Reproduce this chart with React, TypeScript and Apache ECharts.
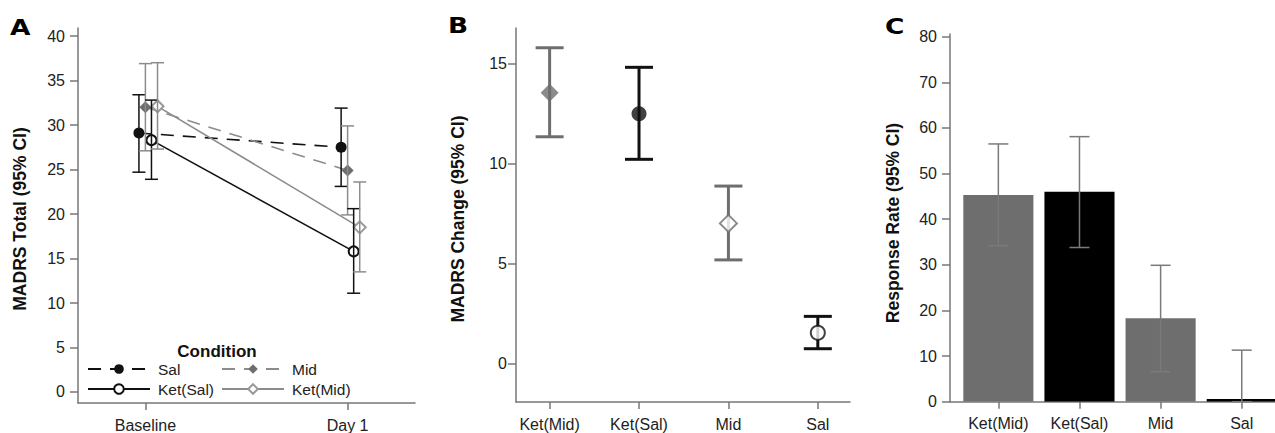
import React, { useEffect, useRef } from 'react';
import * as echarts from 'echarts';

// ---------- Data ----------
const timepoints = ['Baseline', 'Day 1'];
const conditions = ['Sal', 'Mid', 'Ket(Sal)', 'Ket(Mid)'];

const salMean = [29.1, 27.5];
const salLo = [24.7, 23.1];
const salHi = [33.4, 31.9];

const midMean = [32.0, 24.9];
const midLo = [27.1, 19.9];
const midHi = [36.9, 29.9];

const ketSalMean = [28.3, 15.8];
const ketSalLo = [23.9, 11.1];
const ketSalHi = [32.8, 20.6];

const ketMidMean = [32.1, 18.5];
const ketMidLo = [27.3, 13.5];
const ketMidHi = [37.0, 23.6];

const groups = ['Ket(Mid)', 'Ket(Sal)', 'Mid', 'Sal'];
const changeMean = [13.56, 12.5, 7.01, 1.53];
const changeLo = [11.35, 10.22, 5.18, 0.73];
const changeHi = [15.81, 14.83, 8.88, 2.35];

const responseRate = [45.3, 46.0, 18.3, 0.6];
const responseLo = [34.2, 33.8, 6.6, 0];
const responseHi = [56.5, 58.1, 29.9, 11.3];

const ticksA = [0, 5, 10, 15, 20, 25, 30, 35, 40];
const ticksB = [0, 5, 10, 15];
const ticksC = [0, 10, 20, 30, 40, 50, 60, 70, 80];

// ---------- Styles ----------
const FONT = '"Liberation Sans", Arial, sans-serif';
const BLACK = '#111111';
const GRAY = '#6e6e6e';
const LGRAY = '#8c8c8c';
const AXIS = '#777777';

const dodge: Record<string, number> = { Sal: -0.032, Mid: 0, 'Ket(Sal)': 0.03, 'Ket(Mid)': 0.06 };

const meanSets: Record<string, number[][]> = {
  Sal: [salMean, salLo, salHi],
  Mid: [midMean, midLo, midHi],
  'Ket(Sal)': [ketSalMean, ketSalLo, ketSalHi],
  'Ket(Mid)': [ketMidMean, ketMidLo, ketMidHi],
};

const lineLook: Record<string, any> = {
  Sal: { color: BLACK, line: BLACK, type: [13, 9], symbol: 'circle', size: 11, eb: BLACK },
  Mid: { color: GRAY, line: LGRAY, type: [13, 9], symbol: 'diamond', size: 12, eb: LGRAY },
  'Ket(Sal)': { color: BLACK, line: BLACK, type: 'solid', symbol: 'emptyCircle', size: 10, eb: BLACK },
  'Ket(Mid)': { color: '#999999', line: LGRAY, type: 'solid', symbol: 'emptyDiamond', size: 12, eb: LGRAY },
};

const changeColors = [GRAY, BLACK, GRAY, BLACK];
const changeSymbols = ['diamond', 'circle', 'emptyDiamond', 'emptyCircle'];
const changeSizes = [18, 15, 17, 14];
const barColors = [GRAY, '#000000', GRAY, '#000000'];

function errorBar(capW: number, width: number, colorFn: (i: number) => string) {
  return (params: any, api: any) => {
    const x = api.value(0);
    const lo = api.value(1);
    const hi = api.value(2);
    const top = api.coord([x, hi]);
    const bot = api.coord([x, lo]);
    const style = { stroke: colorFn(params.dataIndex), lineWidth: width, fill: null };
    return {
      type: 'group',
      children: [
        { type: 'line', shape: { x1: top[0], y1: top[1], x2: bot[0], y2: bot[1] }, style },
        { type: 'line', shape: { x1: top[0] - capW / 2, y1: top[1], x2: top[0] + capW / 2, y2: top[1] }, style },
        { type: 'line', shape: { x1: bot[0] - capW / 2, y1: bot[1], x2: bot[0] + capW / 2, y2: bot[1] }, style },
      ],
    };
  };
}

function yAxisCommon(ticks: number[], min: number, max: number, margin: number, gridIndex: number) {
  return {
    type: 'value',
    gridIndex,
    min,
    max,
    splitLine: { show: false },
    axisLine: { show: true, onZero: false, lineStyle: { color: AXIS, width: 1.5 } },
    axisTick: { show: true, length: 8, lineStyle: { color: AXIS, width: 1.5 }, customValues: ticks },
    axisLabel: { color: '#222', fontSize: 16, fontFamily: FONT, margin, customValues: ticks },
  };
}

function xAxisCommon(labels: string[], min: number, max: number, gridIndex: number) {
  const vals = labels.map((_, i) => i);
  return {
    type: 'value',
    gridIndex,
    min,
    max,
    splitLine: { show: false },
    axisLine: { show: true, onZero: false, lineStyle: { color: AXIS, width: 1.5 } },
    axisTick: { show: true, length: 7, lineStyle: { color: AXIS, width: 1.5 }, customValues: vals },
    axisLabel: {
      color: '#222',
      fontSize: 16,
      fontFamily: FONT,
      margin: 14,
      customValues: vals,
      formatter: (v: number) => labels[Math.round(v)] ?? '',
    },
  };
}

export default function App() {
  const ref = useRef<HTMLDivElement>(null);

  useEffect(() => {
    if (!ref.current) return;
    const chart = echarts.init(ref.current, undefined, { renderer: 'svg' });

    const series: any[] = [];
    // Panel A lines
    conditions.forEach((c) => {
      const [m] = meanSets[c];
      const look = lineLook[c];
      series.push({
        name: c,
        type: 'line',
        xAxisIndex: 0,
        yAxisIndex: 0,
        data: m.map((v, i) => [i + dodge[c], v]),
        symbol: look.symbol,
        symbolSize: look.size,
        showSymbol: true,
        itemStyle: { color: look.color, borderWidth: 1.5 },
        lineStyle: { color: look.line, width: 1.6, type: look.type },
        z: 3,
      });
    });
    // Panel A error bars
    conditions.forEach((c) => {
      const [m, lo, hi] = meanSets[c];
      const look = lineLook[c];
      series.push({
        name: c + ' CI',
        type: 'custom',
        xAxisIndex: 0,
        yAxisIndex: 0,
        data: m.map((_, i) => [i + dodge[c], lo[i], hi[i]]),
        renderItem: errorBar(13, 1.5, () => look.eb),
        z: 4,
      });
    });
    // Panel B
    series.push({
      name: 'change CI',
      type: 'custom',
      xAxisIndex: 1,
      yAxisIndex: 1,
      data: groups.map((_, i) => [i, changeLo[i], changeHi[i]]),
      renderItem: errorBar(28, 3, (i) => changeColors[i]),
      z: 4,
    });
    series.push({
      name: 'change',
      type: 'scatter',
      xAxisIndex: 1,
      yAxisIndex: 1,
      data: groups.map((_, i) => ({
        value: [i, changeMean[i]],
        symbol: changeSymbols[i],
        symbolSize: changeSizes[i],
        itemStyle: { color: changeColors[i], borderWidth: 1.8 },
      })),
      z: 5,
    });
    // Panel C
    series.push({
      name: 'response',
      type: 'custom',
      xAxisIndex: 2,
      yAxisIndex: 2,
      clip: true,
      data: groups.map((_, i) => [i, responseRate[i]]),
      renderItem: (params: any, api: any) => {
        const x = api.value(0);
        const v = api.value(1);
        const p0 = api.coord([x - 0.432, v]);
        const p1 = api.coord([x + 0.432, 0]);
        return {
          type: 'rect',
          shape: { x: p0[0], y: p0[1], width: p1[0] - p0[0], height: p1[1] - p0[1] },
          style: { fill: barColors[params.dataIndex] },
        };
      },
      z: 2,
    });
    series.push({
      name: 'response CI',
      type: 'custom',
      xAxisIndex: 2,
      yAxisIndex: 2,
      data: groups.map((_, i) => [i, responseLo[i], responseHi[i]]),
      renderItem: errorBar(20, 1.5, () => '#7a7a7a'),
      z: 4,
    });

    const legendBase = {
      padding: 0,
      itemWidth: 62,
      itemHeight: 12,
      selectedMode: false,
      textStyle: { fontSize: 15.5, color: '#222', fontFamily: FONT, padding: [0, 0, 0, 3] },
    };

    const yTitle = (text: string, x: number, y: number) => ({
      type: 'text',
      x,
      y,
      rotation: Math.PI / 2,
      style: {
        text,
        fontSize: 17.5,
        fontWeight: 'bold',
        fontFamily: FONT,
        fill: '#111',
        align: 'center',
        verticalAlign: 'middle',
      },
    });
    const letter = (text: string, x: number, y: number) => ({
      type: 'text',
      x,
      y,
      scaleX: 1.2,
      style: {
        text,
        fontSize: 22,
        fontWeight: 900,
        fontFamily: '"DejaVu Sans", sans-serif',
        fill: '#000',
        align: 'left',
        verticalAlign: 'middle',
      },
    });

    chart.setOption({
      animation: false,
      backgroundColor: '#ffffff',
      grid: [
        { left: 78, top: 28, width: 337, height: 375 },
        { left: 516, top: 28, width: 334, height: 374 },
        { left: 950, top: 34, width: 325, height: 367.7 },
      ],
      xAxis: [
        xAxisCommon(timepoints, -1 / 3, 4 / 3, 0),
        xAxisCommon(groups, -0.376, 3.36, 1),
        xAxisCommon(groups, -0.596, 3.41, 2),
      ],
      yAxis: [
        yAxisCommon(ticksA, -1.236, 40.9, 13, 0),
        yAxisCommon(ticksB, -1.94, 16.8, 9, 1),
        yAxisCommon(ticksC, 0, 80.6, 13, 2),
      ],
      legend: [
        { ...legendBase, data: ['Sal'], left: 87, top: 361 },
        { ...legendBase, data: ['Mid'], left: 221, top: 361 },
        { ...legendBase, data: ['Ket(Sal)'], left: 87, top: 381 },
        { ...legendBase, data: ['Ket(Mid)'], left: 221, top: 381 },
      ],
      graphic: [
        yTitle('MADRS Total (95% CI)', 20, 219),
        yTitle('MADRS Change (95% CI)', 458, 219),
        yTitle('Response Rate (95% CI)', 893, 223),
        letter('A', 10, 27),
        letter('B', 448, 25),
        letter('C', 885, 26),
        {
          type: 'text',
          x: 217,
          y: 351,
          style: {
            text: 'Condition',
            fontSize: 17,
            fontWeight: 'bold',
            fontFamily: FONT,
            fill: '#111',
            align: 'center',
            verticalAlign: 'middle',
          },
        },
      ],
      series,
    });

    return () => chart.dispose();
  }, []);

  return (
    <div
      ref={ref}
      style={{ position: 'absolute', left: 0, top: 0, width: 1275, height: 433, background: '#fff' }}
    />
  );
}
